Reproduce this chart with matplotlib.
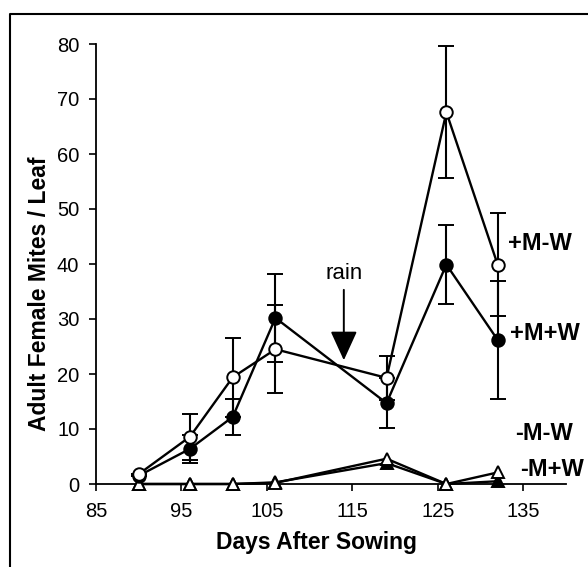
import matplotlib
matplotlib.use("Agg")
import matplotlib.pyplot as plt
from matplotlib.lines import Line2D

# Dados (dias após semeadura)
days = [90, 96, 101, 106, 119, 126, 132]

# +M-W (círculo aberto) e +M+W (círculo cheio)
pmw_mean = [1.8, 8.6, 19.4, 24.5, 19.3, 67.6, 39.9]
pmw_err = [0, 4.2, 7.2, 8.0, 4.0, 12.0, 9.3]
ppw_mean = [1.5, 6.4, 12.2, 30.2, 14.7, 39.9, 26.2]
ppw_err = [0, 2.6, 3.2, 8.0, 4.6, 7.2, 10.7]

# -M-W (triângulo aberto) e -M+W (triângulo cheio)
mmw_mean = [0, 0, 0, 0.2, 4.6, 0, 2.1]
mpw_mean = [0, 0, 0, 0.3, 3.8, 0, 0.5]

rain_day = 114
x_ticks = [85, 95, 105, 115, 125, 135]
y_ticks = [0, 10, 20, 30, 40, 50, 60, 70, 80]

plt.rcParams['font.family'] = ['Liberation Sans', 'DejaVu Sans']

fig = plt.figure(figsize=(5.88, 5.67), dpi=100)
ax = fig.add_axes([96 / 588, 83 / 567, 470 / 588, 440 / 567])

lw = 1.7
ekw = dict(ecolor='black', elinewidth=1.5, capsize=6, capthick=1.5)

# triângulos primeiro (ficam por baixo)
ax.plot(days, mpw_mean, color='black', lw=lw, marker='^', ms=9,
        mfc='black', mec='black', mew=1.4, clip_on=False, zorder=3)
ax.plot(days, mmw_mean, color='black', lw=lw, marker='^', ms=9,
        mfc='white', mec='black', mew=1.4, clip_on=False, zorder=4)

ax.errorbar(days, ppw_mean, yerr=ppw_err, color='black', lw=lw, marker='o',
            ms=9, mfc='black', mec='black', mew=1.4, clip_on=False, zorder=5, **ekw)
ax.errorbar(days, pmw_mean, yerr=pmw_err, color='black', lw=lw, marker='o',
            ms=9, mfc='white', mec='black', mew=1.4, clip_on=False, zorder=6, **ekw)

# rótulos das séries à direita
lab = dict(fontsize=17, fontweight='bold', va='center', ha='left', clip_on=False)
ax.text(133.2, 43.8, '+M-W', **lab)
ax.text(133.4, 27.4, '+M+W', **lab)
ax.text(134.0, 9.2, '-M-W', **lab)
ax.text(134.6, 2.6, '-M+W', **lab)

# seta da chuva
ax.annotate('', xy=(rain_day, 22.5), xytext=(rain_day, 35.3),
            arrowprops=dict(arrowstyle='-|>,head_length=0.7,head_width=0.32',
                            mutation_scale=26, lw=1.4, color='black',
                            shrinkA=0, shrinkB=0))
ax.text(rain_day, 36.4, 'rain', fontsize=16, ha='center', va='bottom')

ax.set_xlim(85, 140)
ax.set_ylim(0, 80)
ax.set_xticks(x_ticks)
ax.set_yticks(y_ticks)
ax.tick_params(labelsize=14.5, width=1.2, length=5, direction='out')
ax.tick_params(axis='x', pad=8)
ax.tick_params(axis='y', pad=7)
ax.spines['top'].set_visible(False)
ax.spines['right'].set_visible(False)
ax.spines['left'].set_linewidth(1.3)
ax.spines['bottom'].set_linewidth(1.3)

fig.text(316 / 588, 1 - 542 / 567, 'Days After Sowing', fontsize=16.5,
         fontweight='bold', ha='center', va='center')
fig.text(40 / 588, 1 - 294 / 567, 'Adult Female Mites / Leaf', fontsize=16.5,
         fontweight='bold', ha='center', va='center', rotation=90)

# moldura da área do gráfico (esquerda e topo)
fig.add_artist(Line2D([10 / 588, 10 / 588, 1.0], [0.0, 1 - 14 / 567, 1 - 14 / 567],
                      transform=fig.transFigure, color='black', lw=1.5))

fig.savefig('out.png', dpi=100)
